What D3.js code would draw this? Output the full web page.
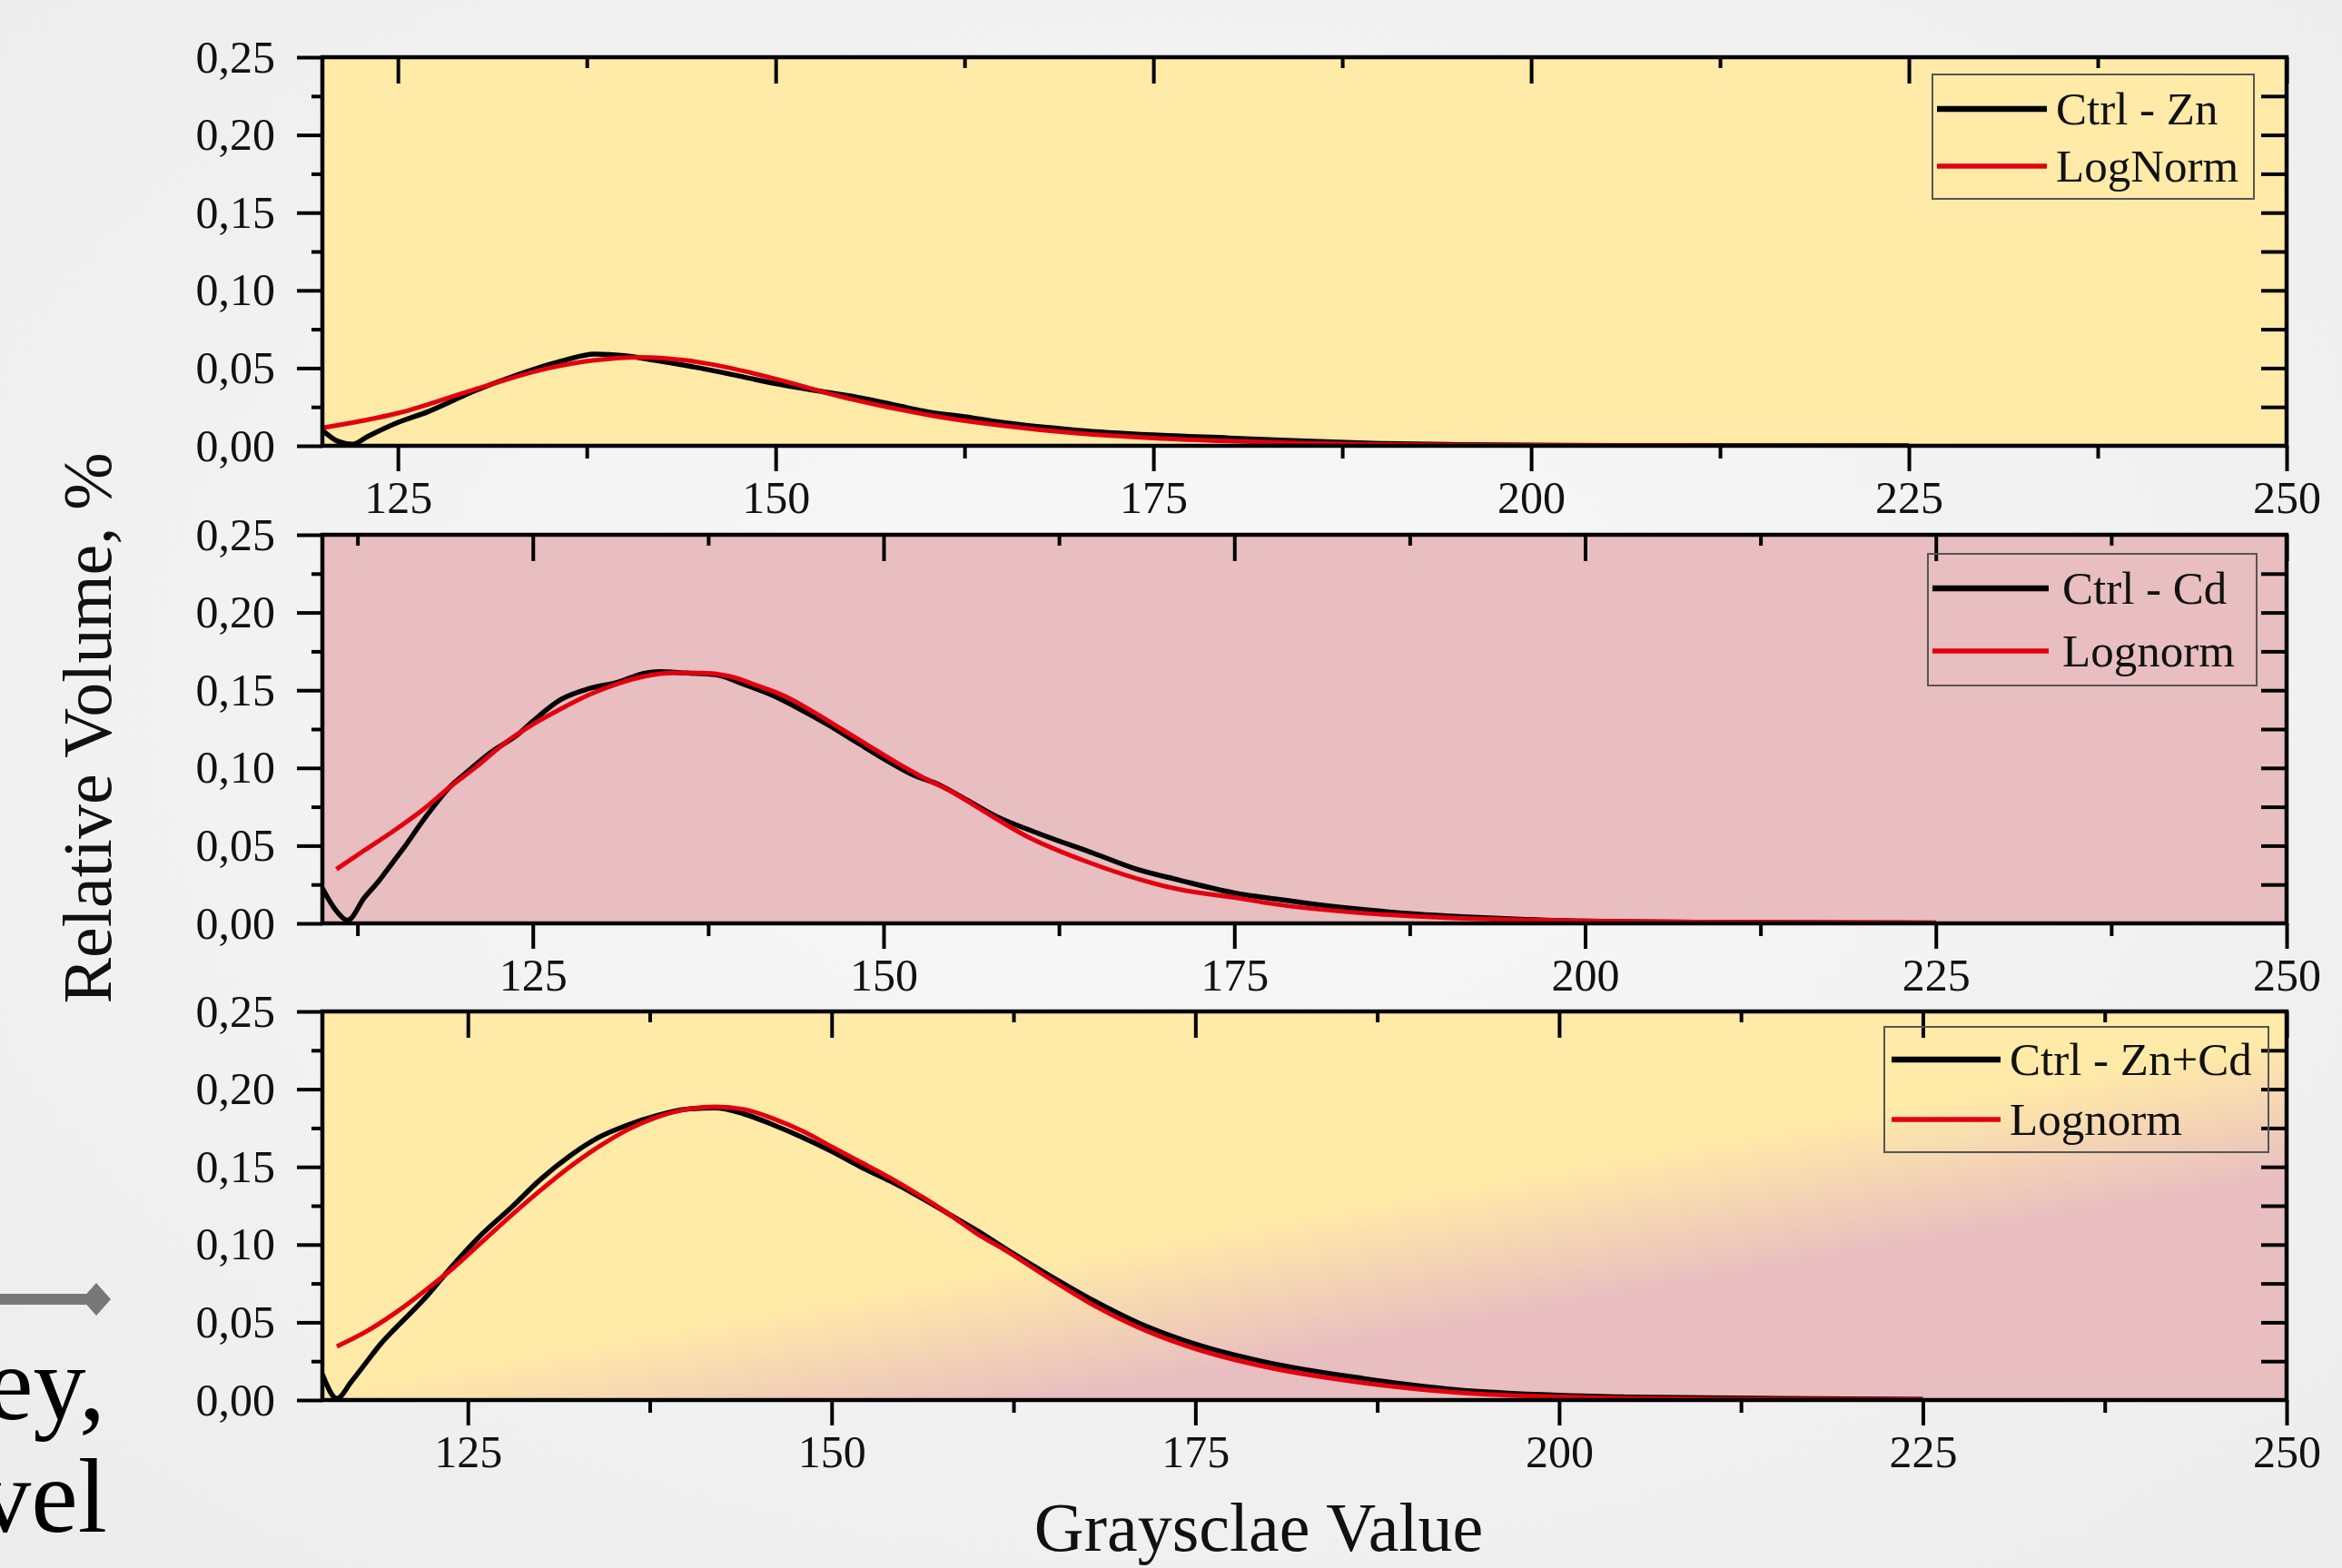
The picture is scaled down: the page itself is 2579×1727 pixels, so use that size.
<!DOCTYPE html>
<html>
<head>
<meta charset="utf-8">
<script src="https://cdn.jsdelivr.net/npm/d3@7"></script>
<style>
  body { margin: 0; background: #f4f4f4; }
  svg { display: block; }
</style>
</head>
<body>
<svg id="chart" width="2579" height="1727"></svg>
<script>
// ---- data ----
var xTicks = [125, 150, 175, 200, 225, 250];
var xMinorTicks = [112.5, 137.5, 162.5, 187.5, 212.5, 237.5];
var yTicks = [0, 0.05, 0.10, 0.15, 0.20, 0.25];
var yMinorTicks = [0.025, 0.075, 0.125, 0.175, 0.225];

// Ctrl - Zn
var znCtrlX = [120, 121, 122, 123, 125, 127, 130, 133, 136, 138, 140, 142, 145, 148, 150, 153, 155, 158, 160, 163, 165, 170, 175, 180, 185, 190, 195, 200, 210, 225];
var znCtrlY = [0.010, 0.003, 0.001, 0.006, 0.015, 0.022, 0.035, 0.046, 0.055, 0.059, 0.058, 0.055, 0.050, 0.044, 0.040, 0.035, 0.032, 0.026, 0.022, 0.018, 0.015, 0.010, 0.007, 0.005, 0.003, 0.0015, 0.0008, 0.0004, 0.0001, 0];
var znFitX = [120, 125, 130, 135, 138, 141, 144, 147, 150, 155, 160, 165, 170, 175, 180, 185, 190, 200, 210, 225];
var znFitY = [0.0115, 0.021, 0.036, 0.050, 0.055, 0.057, 0.055, 0.050, 0.043, 0.030, 0.020, 0.013, 0.008, 0.005, 0.003, 0.0016, 0.0009, 0.0003, 0.0001, 0];

// Ctrl - Cd
var cdCtrlX = [110, 111, 111.8, 113, 114, 115, 116, 117, 118, 119, 120, 122, 124, 125, 127, 129, 131, 133, 134, 136, 138, 140, 142, 144, 146, 148, 150, 152, 154, 156, 158, 161, 165, 168, 171, 175, 178, 181, 184, 188, 191, 195, 200, 210, 225];
var cdCtrlY = [0.0226, 0.008, 0.002, 0.0166, 0.027, 0.039, 0.051, 0.064, 0.076, 0.087, 0.095, 0.110, 0.122, 0.130, 0.144, 0.151, 0.155, 0.161, 0.162, 0.161, 0.160, 0.154, 0.147, 0.138, 0.128, 0.117, 0.106, 0.096, 0.089, 0.079, 0.069, 0.058, 0.045, 0.035, 0.028, 0.0196, 0.0156, 0.012, 0.009, 0.006, 0.0044, 0.0028, 0.0014, 0.0006, 0.0003];
var cdFitX = [111, 113, 115, 117, 119, 121, 123, 125, 127, 129, 131, 133, 135, 137, 139, 141, 143, 145, 147, 149, 151, 153, 155, 157, 160, 164.7, 171.2, 175, 177.8, 184.3, 190.8, 197.3, 205, 215, 225];
var cdFitY = [0.0348, 0.047, 0.059, 0.072, 0.087, 0.101, 0.116, 0.128, 0.138, 0.147, 0.154, 0.159, 0.161, 0.161, 0.159, 0.153, 0.146, 0.136, 0.125, 0.114, 0.103, 0.093, 0.084, 0.073, 0.057, 0.039, 0.0216, 0.0166, 0.0125, 0.0065, 0.0034, 0.002, 0.001, 0.0005, 0.0003];

// Ctrl - Zn+Cd
var zncdCtrlX = [115, 116, 117, 118, 119, 120, 122, 124, 126, 128, 130, 132, 134, 136, 138, 140, 142, 144, 146, 148, 150, 152, 154, 156, 158, 160, 162, 165, 168, 171, 175, 180, 186.6, 192.8, 200, 205, 215, 225];
var zncdCtrlY = [0.0167, 0.001, 0.012, 0.024, 0.036, 0.046, 0.065, 0.087, 0.107, 0.124, 0.142, 0.157, 0.169, 0.177, 0.183, 0.187, 0.188, 0.184, 0.177, 0.169, 0.160, 0.150, 0.141, 0.131, 0.120, 0.109, 0.097, 0.080, 0.064, 0.050, 0.036, 0.024, 0.0138, 0.0067, 0.003, 0.0019, 0.001, 0.0005];
var zncdFitX = [116, 118, 120, 122, 124, 126, 128, 130, 132, 134, 136, 138, 140, 142, 144, 146, 148, 150, 152, 154, 156, 158, 160, 162, 165, 168, 171, 175, 180, 186.6, 192.8, 200, 210, 225];
var zncdFitY = [0.0345, 0.044, 0.056, 0.070, 0.085, 0.102, 0.119, 0.135, 0.150, 0.163, 0.174, 0.182, 0.187, 0.1886, 0.187, 0.181, 0.173, 0.163, 0.153, 0.143, 0.132, 0.120, 0.107, 0.096, 0.078, 0.061, 0.047, 0.033, 0.021, 0.011, 0.005, 0.002, 0.0007, 0.0003];

var ctrlLabels = ["Ctrl - Zn", "Ctrl - Cd", "Ctrl - Zn+Cd"];
var fitLabels = ["LogNorm", "Lognorm", "Lognorm"];
var xStarts = [120, 110, 115];

// ---- layout ----
var plotLeft = 355, plotRight = 2518, plotH = 428;
var panelTops = [63, 589, 1114];
var yellow = "#ffeaa8", pink = "#e8bec0";
var serif = "'Liberation Serif', 'Times New Roman', serif";

var panels = [
  { ctrlX: znCtrlX, ctrlY: znCtrlY, fitX: znFitX, fitY: znFitY, fill: yellow,
    legend: { x0: 2128, x1: 2482, y0: 82, y1: 219, l0: 2133, l1: 2254, yA: 120, yB: 183, tx: 2264 } },
  { ctrlX: cdCtrlX, ctrlY: cdCtrlY, fitX: cdFitX, fitY: cdFitY, fill: pink,
    legend: { x0: 2123, x1: 2485, y0: 610, y1: 755, l0: 2128, l1: 2256, yA: 648, yB: 717, tx: 2271 } },
  { ctrlX: zncdCtrlX, ctrlY: zncdCtrlY, fitX: zncdFitX, fitY: zncdFitY, fill: "url(#mixGrad)",
    legend: { x0: 2075, x1: 2498, y0: 1131, y1: 1269, l0: 2083, l1: 2203, yA: 1167, yB: 1233, tx: 2213 } }
];

var svg = d3.select("#chart");
var defs = svg.append("defs");

var bg = defs.append("radialGradient").attr("id", "bgGrad")
  .attr("cx", "50%").attr("cy", "45%").attr("r", "75%");
bg.append("stop").attr("offset", "0%").attr("stop-color", "#f9f9f9");
bg.append("stop").attr("offset", "100%").attr("stop-color", "#ececec");
svg.append("rect").attr("width", 2579).attr("height", 1727).attr("fill", "url(#bgGrad)");

// diagonal yellow -> pink blend of the last panel
var nx = 0.1775, ny = 0.984, cx = 1629, cy = 1381, w = 75;
var mix = defs.append("linearGradient").attr("id", "mixGrad")
  .attr("gradientUnits", "userSpaceOnUse")
  .attr("x1", cx - w * nx).attr("y1", cy - w * ny)
  .attr("x2", cx + w * nx).attr("y2", cy + w * ny);
mix.append("stop").attr("offset", "0%").attr("stop-color", yellow);
mix.append("stop").attr("offset", "100%").attr("stop-color", pink);

var fmt = function (v) { return d3.format(".2f")(v).replace(".", ","); };

var drawPanel = function (p, i) {
  var top = panelTops[i];
  var x = d3.scaleLinear().domain([xStarts[i], 250]).range([plotLeft, plotRight]);
  var y = d3.scaleLinear().domain([0, 0.25]).range([top + plotH, top]);
  var g = svg.append("g");

  g.append("rect")
    .attr("x", plotLeft).attr("y", top)
    .attr("width", plotRight - plotLeft).attr("height", plotH)
    .attr("fill", p.fill);

  defs.append("clipPath").attr("id", "clip" + i)
    .append("rect").attr("x", plotLeft).attr("y", top)
    .attr("width", plotRight - plotLeft).attr("height", plotH);

  var line = d3.line()
    .x(function (d) { return x(d[0]); })
    .y(function (d) { return y(d[1]); })
    .curve(d3.curveMonotoneX);

  g.append("path")
    .datum(d3.zip(p.ctrlX, p.ctrlY))
    .attr("clip-path", "url(#clip" + i + ")")
    .attr("d", line)
    .attr("fill", "none").attr("stroke", "#000").attr("stroke-width", 5.5);
  g.append("path")
    .datum(d3.zip(p.fitX, p.fitY))
    .attr("clip-path", "url(#clip" + i + ")")
    .attr("d", line)
    .attr("fill", "none").attr("stroke", "#e3000f").attr("stroke-width", 5);

  var minorX = xMinorTicks.filter(function (v) { return v > xStarts[i]; });

  var axes = [
    [d3.axisBottom(x).tickValues(xTicks).tickSize(28).tickPadding(10).tickFormat(d3.format("d")), top + plotH, 0],
    [d3.axisBottom(x).tickValues(minorX).tickSize(14).tickFormat(""), top + plotH, 0],
    [d3.axisTop(x).tickValues(xTicks).tickSize(-29).tickFormat(""), top, 0],
    [d3.axisTop(x).tickValues(minorX).tickSize(-12).tickFormat(""), top, 0],
    [d3.axisLeft(y).tickValues(yTicks).tickSize(28).tickPadding(24).tickFormat(fmt), 0, plotLeft],
    [d3.axisLeft(y).tickValues(yMinorTicks).tickSize(12).tickFormat(""), 0, plotLeft],
    [d3.axisRight(y).tickValues(yTicks.slice(1, 5).concat(yMinorTicks)).tickSize(-28).tickFormat(""), 0, plotRight]
  ];
  axes.forEach(function (a) {
    var ag = g.append("g")
      .attr("transform", "translate(" + a[2] + "," + a[1] + ")")
      .call(a[0]);
    ag.select(".domain").remove();
    ag.selectAll("line").attr("stroke", "#000").attr("stroke-width", 4);
    ag.selectAll("text").attr("font-family", serif).attr("font-size", 50).attr("fill", "#111");
  });

  g.append("rect")
    .attr("x", plotLeft).attr("y", top)
    .attr("width", plotRight - plotLeft).attr("height", plotH)
    .attr("fill", "none").attr("stroke", "#000").attr("stroke-width", 4.5);

  // legend
  var lg = p.legend;
  g.append("rect")
    .attr("x", lg.x0).attr("y", lg.y0)
    .attr("width", lg.x1 - lg.x0).attr("height", lg.y1 - lg.y0)
    .attr("fill", "none").attr("stroke", "#555").attr("stroke-width", 2);
  g.append("line").attr("x1", lg.l0).attr("x2", lg.l1).attr("y1", lg.yA).attr("y2", lg.yA)
    .attr("stroke", "#000").attr("stroke-width", 6.5);
  g.append("line").attr("x1", lg.l0).attr("x2", lg.l1).attr("y1", lg.yB).attr("y2", lg.yB)
    .attr("stroke", "#e3000f").attr("stroke-width", 5.5);
  g.append("text").attr("x", lg.tx).attr("y", lg.yA + 17)
    .attr("font-family", serif).attr("font-size", 51).attr("fill", "#111")
    .text(ctrlLabels[i]);
  g.append("text").attr("x", lg.tx).attr("y", lg.yB + 17)
    .attr("font-family", serif).attr("font-size", 51).attr("fill", "#111")
    .text(fitLabels[i]);
};

panels.forEach(drawPanel);

// axis titles
svg.append("text")
  .attr("transform", "translate(122,802) rotate(-90)")
  .attr("text-anchor", "middle")
  .attr("font-family", serif).attr("font-size", 76).attr("fill", "#111")
  .text("Relative Volume, %");
svg.append("text")
  .attr("x", 1386).attr("y", 1708)
  .attr("text-anchor", "middle")
  .attr("font-family", serif).attr("font-size", 76).attr("fill", "#111")
  .text("Graysclae Value");

// bits of the slide behind the chart
svg.append("line").attr("x1", 0).attr("x2", 100).attr("y1", 1431).attr("y2", 1431)
  .attr("stroke", "#777").attr("stroke-width", 12);
svg.append("path").attr("d", "M90,1431 L106,1413 L122,1431 L106,1449 Z").attr("fill", "#777");
svg.append("text").attr("x", 116).attr("y", 1563).attr("text-anchor", "end")
  .attr("font-family", serif).attr("font-size", 116).attr("fill", "#000").text("ey,");
svg.append("text").attr("x", 118).attr("y", 1687).attr("text-anchor", "end")
  .attr("font-family", serif).attr("font-size", 116).attr("fill", "#000").text("vel");
</script>
</body>
</html>
